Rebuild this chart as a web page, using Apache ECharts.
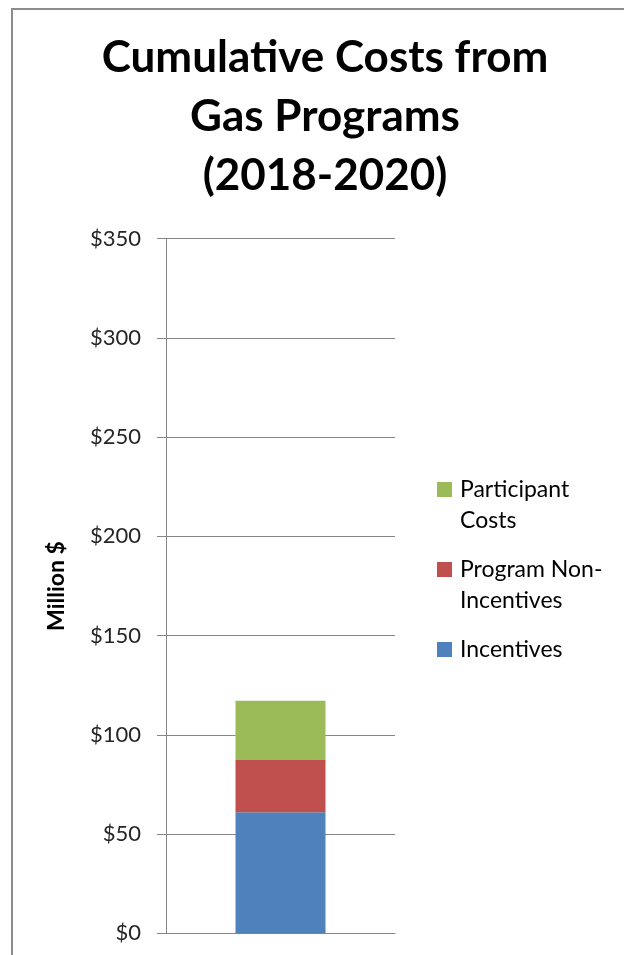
<!DOCTYPE html>
<html>
<head>
<meta charset="utf-8">
<script src="https://cdn.jsdelivr.net/npm/echarts@6/dist/echarts.min.js"></script>
<style>
  html, body { margin: 0; padding: 0; background: #fff; }
  #chart { width: 624px; height: 955px; }
</style>
</head>
<body>
<div id="chart"></div>
<script>
const categories = ['2018-2020']
const incentives = [61.0]
const programNonIncentives = [26.3]
const participantCosts = [29.9]
const yTicks = [0, 50, 100, 150, 200, 250, 300, 350]

// legend labels are wrapped like the original, blank line on top keeps the swatch on the first line
const legendLabels = {
  'Participant Costs': '\nParticipant\nCosts',
  'Program Non-Incentives': '\nProgram Non-\nIncentives',
  'Incentives': '\nIncentives\n'
}

const FONT = 'Lato'
const GRID_COLOR = '#868686'

const chart = echarts.init(document.getElementById('chart'), null, { renderer: 'canvas' })

const option = {
  backgroundColor: '#fff',
  animation: false,
  title: {
    text: 'Cumulative Costs from\nGas Programs\n(2018-2020)',
    left: 325,
    top: 28,
    textAlign: 'center',
    padding: 0,
    textStyle: {
      fontFamily: FONT,
      fontWeight: 'bold',
      fontSize: 44,
      lineHeight: 59,
      color: '#000'
    }
  },
  graphic: [{
    type: 'rect',
    silent: true,
    shape: { x: 12, y: 9, width: 1000, height: 1200 },
    style: { fill: 'none', stroke: '#8c8c8c', lineWidth: 2 }
  }],
  legend: {
    orient: 'vertical',
    left: 437,
    top: 443,
    itemWidth: 15,
    itemHeight: 15,
    itemGap: -13,
    padding: 0,
    icon: 'rect',
    data: ['Participant Costs', 'Program Non-Incentives', 'Incentives'],
    formatter: name => legendLabels[name],
    textStyle: {
      fontFamily: FONT,
      fontSize: 23,
      lineHeight: 31,
      color: '#000',
      padding: [0, 0, 0, 3]
    }
  },
  grid: {
    left: 166,
    right: 229,
    top: 238.7,
    bottom: 21.7,
    containLabel: false
  },
  xAxis: {
    type: 'category',
    data: categories,
    axisLine: { show: true, lineStyle: { color: GRID_COLOR, width: 1 } },
    axisTick: { show: false },
    axisLabel: { show: false }
  },
  yAxis: {
    type: 'value',
    min: yTicks[0],
    max: yTicks[yTicks.length - 1],
    interval: 50,
    name: 'Million $',
    nameLocation: 'middle',
    nameRotate: 90,
    nameGap: 98,
    nameTextStyle: {
      fontFamily: FONT,
      fontWeight: 'bold',
      fontSize: 23,
      color: '#000'
    },
    axisLine: { show: true, lineStyle: { color: GRID_COLOR, width: 1 } },
    axisTick: { show: true, inside: false, length: 9, lineStyle: { color: GRID_COLOR } },
    axisLabel: {
      margin: 25,
      fontFamily: FONT,
      fontSize: 22,
      color: '#262626',
      formatter: v => '$' + v
    },
    splitLine: { show: true, lineStyle: { color: GRID_COLOR, width: 1 } }
  },
  series: [
    {
      name: 'Incentives',
      type: 'bar',
      stack: 'cost',
      barWidth: 90,
      data: incentives,
      itemStyle: { color: '#4F81BD' }
    },
    {
      name: 'Program Non-Incentives',
      type: 'bar',
      stack: 'cost',
      barWidth: 90,
      data: programNonIncentives,
      itemStyle: { color: '#C0504D' }
    },
    {
      name: 'Participant Costs',
      type: 'bar',
      stack: 'cost',
      barWidth: 90,
      data: participantCosts,
      itemStyle: { color: '#9BBB59' }
    }
  ]
}

chart.setOption(option)
</script>
</body>
</html>
